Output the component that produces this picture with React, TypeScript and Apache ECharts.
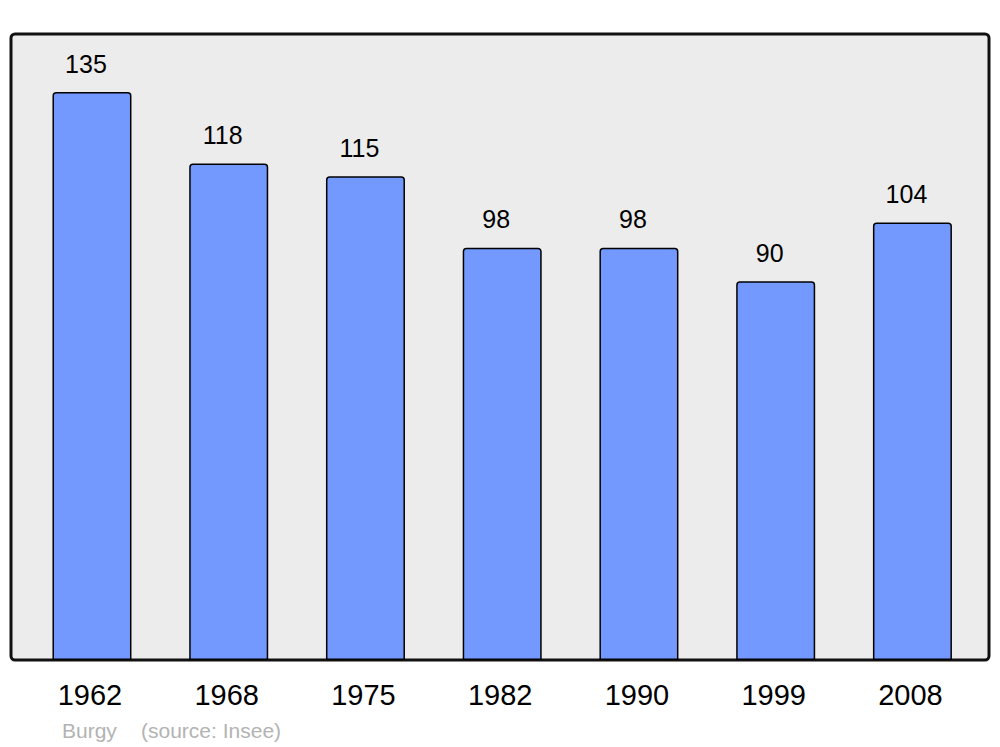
import React, { useEffect, useRef } from "react";
import * as echarts from "echarts";

const years = ["1962", "1968", "1975", "1982", "1990", "1999", "2008"];
const population = [135, 118, 115, 98, 98, 90, 104];
const footerName = "Burgy";
const footerSource = "(source: Insee)";

export default function App() {
  const ref = useRef<HTMLDivElement>(null);
  useEffect(() => {
    document.body.style.margin = "0";
    const chart = echarts.init(ref.current!, null, { renderer: "svg" });
    const font = "Liberation Sans, Arial, sans-serif";
    chart.setOption({
      animation: false,
      backgroundColor: "#ffffff",
      textStyle: { fontFamily: font },
      grid: { left: 23.6, right: 19.2, top: 34, bottom: 87, containLabel: false },
      xAxis: {
        type: "category",
        data: years,
        axisLine: { show: false },
        axisTick: { show: false },
        splitLine: { show: false },
        axisLabel: {
          color: "#000000",
          fontSize: 29,
          margin: 20,
          padding: [0, 4, 0, 0],
          fontFamily: font,
        },
      },
      yAxis: {
        type: "value",
        min: 0,
        max: 148.8,
        show: false,
        splitLine: { show: false },
      },
      graphic: [
        {
          type: "rect",
          z: 0,
          shape: { x: 11, y: 34, width: 978, height: 626, r: 4 },
          style: { fill: "#ececec", stroke: "#111111", lineWidth: 3 },
        },
        {
          type: "text",
          z: 10,
          left: 62,
          top: 720,
          style: { text: footerName, fill: "#b3b3b3", fontSize: 21, fontFamily: font },
        },
        {
          type: "text",
          z: 10,
          left: 141,
          top: 720,
          style: { text: footerSource, fill: "#b3b3b3", fontSize: 21, fontFamily: font },
        },
      ],
      series: [
        {
          type: "bar",
          data: population,
          barWidth: 79,
          z: 5,
          itemStyle: {
            color: "#7399ff",
            borderColor: "#000000",
            borderWidth: 1.5,
            borderRadius: [3, 3, 0, 0],
          },
          label: {
            show: true,
            position: "top",
            distance: 16,
            offset: [-6, 0],
            color: "#000000",
            fontSize: 25,
            fontFamily: font,
          },
        },
      ],
    });
    return () => chart.dispose();
  }, []);
  return <div ref={ref} style={{ width: 1000, height: 747 }} />;
}
